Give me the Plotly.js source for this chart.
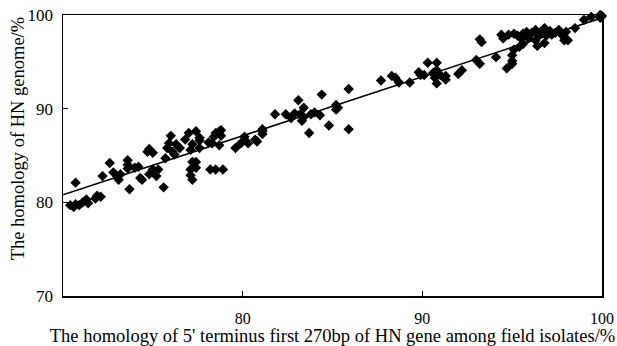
<!DOCTYPE html>
<html>
<head>
<meta charset="utf-8">
<script src="https://cdn.plot.ly/plotly-3.0.1.min.js"></script>
<style>
html,body{margin:0;padding:0;background:#fff;}
#chart{width:617px;height:346px;}
</style>
</head>
<body>
<div id="chart"></div>
<script>
// Homology of 5' terminus first 270bp (x, %) vs homology of HN genome (y, %)
const fieldX = [
  70.4,70.6,70.7,70.7,70.9,71.1,71.3,71.4,71.8,71.9,72.1,72.2,72.6,
  72.8,73.0,73.1,73.2,73.6,73.6,73.6,73.7,74.0,74.2,74.3,74.4,74.7,74.8,75.0,74.8,75.0,75.2,75.3,75.6,
  75.7,75.8,75.9,76.0,76.1,76.2,76.3,76.5,76.8,77.0,77.1,77.2,77.2,77.1,77.1,77.2,77.4,77.6,77.6,77.4,77.4,77.6,
  78.1,78.3,78.4,78.5,78.7,78.8,78.8,78.2,78.5,78.9,78.7,
  79.6,79.9,80.1,80.3,80.7,80.8,81.1,81.1,81.1,81.8,82.4,82.7,82.9,83.1,
  83.2,83.3,83.4,83.7,83.4,83.8,84.0,84.3,84.4,84.8,85.2,85.2,85.3,85.9,85.9,
  87.7,88.3,88.5,88.7,89.3,89.8,89.9,90.1,90.3,90.6,90.7,90.8,90.8,90.8,91.0,91.3,91.3,90.7,
  92.0,92.2,93.0,93.2,93.2,93.3,94.1,94.4,94.5,94.8,94.7,95.0,95.0,95.1,95.0,95.1,95.3,95.5,95.6,95.4,95.6,
  95.8,95.9,96.1,96.3,96.3,96.4,96.5,96.6,96.8,96.8,96.9,97.1,97.2,97.4,97.6,97.8,97.9,98.1,98.0,98.5,99.0,99.4,99.9,99.9,100.0
];
const genomeY = [
  79.7,79.5,79.8,82.1,79.7,80.0,80.3,79.9,80.4,80.7,80.6,82.8,84.2,
  83.2,82.8,82.4,83.0,84.5,84.0,83.6,81.4,83.7,83.8,82.6,82.4,85.4,85.7,85.3,83.0,83.5,82.8,83.5,81.6,
  84.7,85.8,86.3,87.1,85.4,85.1,86.2,85.8,86.7,87.4,85.6,86.2,84.3,83.5,82.9,82.4,87.6,86.9,85.8,84.3,83.7,86.6,
  86.4,86.3,87.0,87.4,87.6,87.7,87.1,83.5,83.5,83.5,86.1,
  85.8,86.3,87.0,86.3,86.7,86.5,87.3,87.8,87.6,89.4,89.4,89.0,89.5,90.9,
  89.4,88.7,90.1,87.4,89.1,89.4,89.6,89.3,91.5,88.2,89.9,90.4,90.1,92.1,87.8,
  93.0,93.5,93.3,92.8,92.8,93.9,93.6,93.6,94.9,93.8,93.3,94.1,94.9,92.7,93.6,93.5,93.1,93.6,
  93.7,94.1,95.2,94.8,97.4,97.1,95.5,97.9,97.5,97.9,94.3,94.8,95.1,96.3,95.7,98.0,97.8,97.5,98.0,96.6,96.9,
  98.2,97.5,98.1,98.4,97.3,96.7,97.8,98.2,98.6,97.0,97.8,98.3,97.9,98.1,98.4,97.8,97.3,97.3,98.2,98.6,99.5,99.8,100.0,99.7,99.9
];
// regression line end points
const fitX = [70, 100];
const fitY = [80.8, 99.7];

const xTicks = [80, 90, 100];
const yTicks = [70, 80, 90, 100];

const xTitle = "The homology of 5' terminus first 270bp of HN gene among field isolates/%";
const yTitle = 'The homology of HN genome/%';

const serif = 'Liberation Serif, Times New Roman, serif';

const traces = [
  {
    x: fieldX, y: genomeY, type: 'scatter', mode: 'markers',
    marker: {symbol: 'diamond', size: 8, color: '#000'},
    cliponaxis: false, hoverinfo: 'x+y'
  },
  {
    x: fitX, y: fitY, type: 'scatter', mode: 'lines',
    line: {color: '#000', width: 1.6}, hoverinfo: 'skip'
  }
];

const layout = {
  width: 617, height: 346,
  margin: {l: 63, r: 15, t: 15, b: 50},
  paper_bgcolor: '#fff', plot_bgcolor: '#fff',
  showlegend: false,
  font: {family: serif, color: '#000', size: 16},
  xaxis: {
    range: [70, 100], tickvals: xTicks, ticktext: xTicks.map(String),
    ticks: 'inside', ticklen: 5, tickwidth: 1.2, tickcolor: '#000',
    showline: true, mirror: true, linecolor: '#000', linewidth: 1.5,
    showgrid: false, zeroline: false, ticklabelstandoff: 7,
    tickfont: {family: serif, size: 16, color: '#000'},
    title: {text: xTitle,
            font: {family: serif, size: 18.5, color: '#000'}, standoff: 7}
  },
  yaxis: {
    range: [70, 100], tickvals: yTicks, ticktext: yTicks.map(String),
    ticks: 'inside', ticklen: 5, tickwidth: 1.2, tickcolor: '#000',
    showline: true, mirror: true, linecolor: '#000', linewidth: 1.5,
    showgrid: false, zeroline: false, ticklabelstandoff: 5,
    tickfont: {family: serif, size: 17, color: '#000'},
    title: {text: ''}
  },
  annotations: [{
    text: yTitle, xref: 'paper', yref: 'paper',
    x: -0.084, y: 0.56, xanchor: 'center', yanchor: 'middle',
    textangle: -90, showarrow: false,
    font: {family: serif, size: 18.5, color: '#000'}
  }]
};

Plotly.newPlot('chart', traces, layout, {staticPlot: true, displayModeBar: false});
</script>
</body>
</html>
